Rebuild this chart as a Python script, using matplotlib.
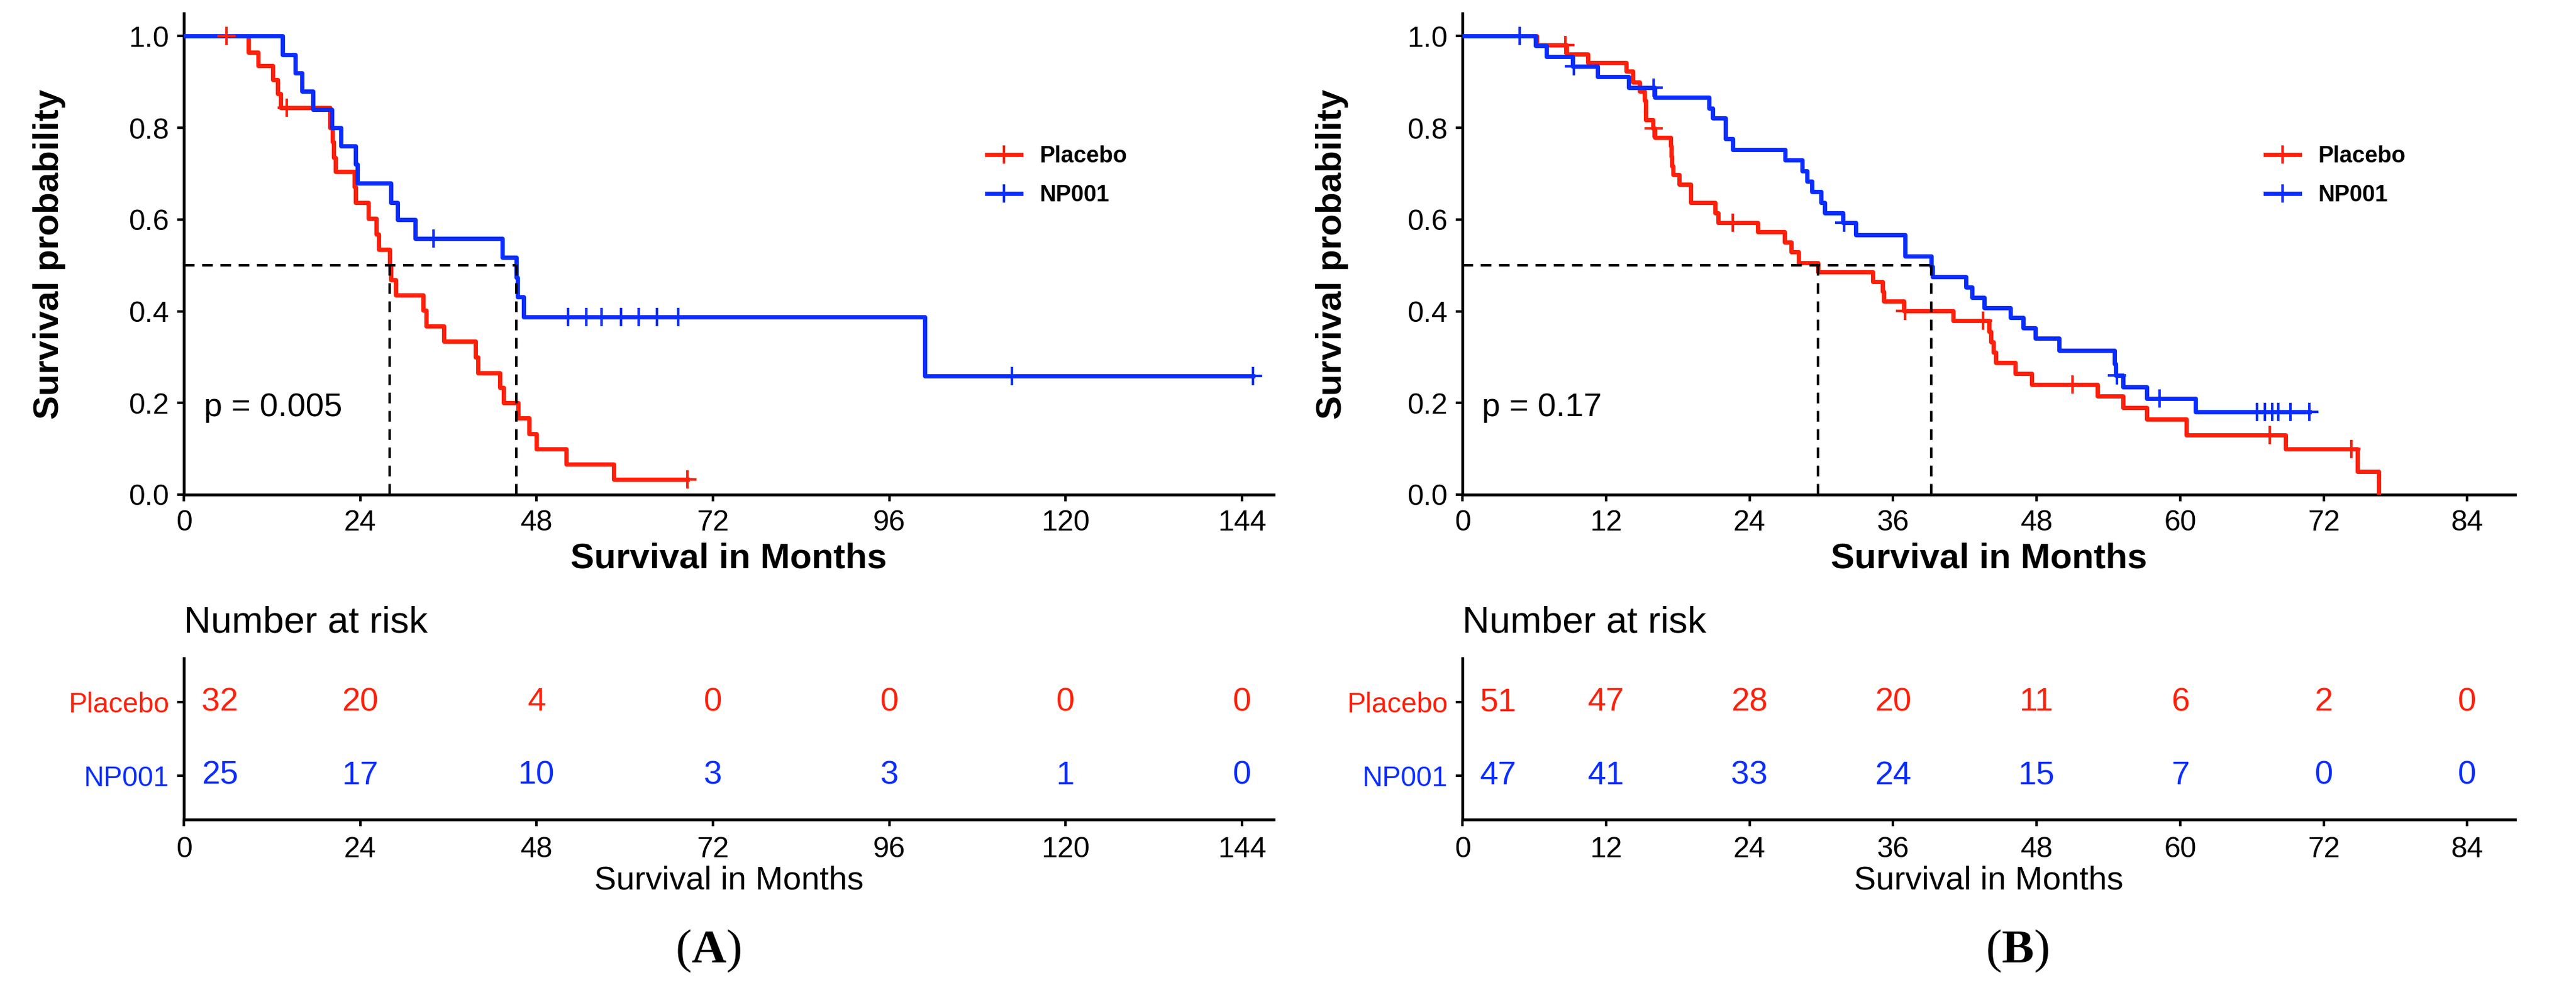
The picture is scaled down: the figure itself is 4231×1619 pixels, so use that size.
import numpy as np
import matplotlib
matplotlib.use('Agg')
import matplotlib.pyplot as plt
from matplotlib.lines import Line2D
import matplotlib.transforms as mtransforms

plt.rcParams['font.family'] = ['Liberation Sans', 'DejaVu Sans']
plt.rcParams['mathtext.fontset'] = 'custom'
plt.rcParams['mathtext.rm'] = 'Liberation Serif'
plt.rcParams['mathtext.bf'] = 'Liberation Serif:bold'

RED = '#FF200A'
BLUE = '#0A2DFF'
groups = ['Placebo', 'NP001']

# ---------------- Panel A data ----------------
A_placebo_time = [0, 8.8, 10.1, 12.1, 12.8, 13.2, 19.9, 20.2, 20.4, 20.6, 23.2, 23.4,
                  25.1, 26.2, 26.5, 28.0, 28.2, 28.8, 32.6, 33.0, 35.4, 39.7, 40.0,
                  43.0, 43.5, 45.5, 47.0, 48.0, 52.0, 58.5, 68.5]
A_placebo_surv = [1.0, 0.965, 0.935, 0.905, 0.875, 0.844, 0.800, 0.770, 0.735, 0.704, 0.672, 0.637,
                  0.602, 0.568, 0.535, 0.500, 0.469, 0.435, 0.402, 0.368, 0.334, 0.300, 0.266,
                  0.233, 0.200, 0.167, 0.133, 0.100, 0.067, 0.033, 0.033]
A_placebo_censor = [5.8, 14.0, 68.5]

A_np001_time = [0, 13.4, 15.2, 16.1, 17.6, 20.1, 21.4, 23.4, 23.6, 28.2, 29.1, 31.5,
                43.3, 45.2, 45.4, 46.2, 100.8, 145.5]
A_np001_surv = [1.0, 0.96, 0.92, 0.88, 0.84, 0.80, 0.76, 0.72, 0.68, 0.637, 0.60, 0.559,
                0.517, 0.474, 0.431, 0.388, 0.259, 0.259]
A_np001_censor = [34.0, 52.3, 54.8, 56.8, 59.5, 61.9, 64.4, 67.3, 112.7, 145.5]

A_pval = 'p = 0.005'
A_risk_times = [0, 24, 48, 72, 96, 120, 144]
A_risk_placebo = [32, 20, 4, 0, 0, 0, 0]
A_risk_np001 = [25, 17, 10, 3, 3, 1, 0]

# ---------------- Panel B data ----------------
B_placebo_time = [0, 6.2, 8.7, 10.5, 13.7, 14.25, 14.8, 15.2, 15.3, 15.95, 16.1,
                  17.4, 17.45, 17.5, 17.6, 18.1, 19.1, 21.1, 21.4, 24.7, 26.9, 27.5,
                  28.1, 29.7, 34.3, 35.1, 35.2, 36.9, 41.0, 44.0, 44.2, 44.4, 44.6,
                  46.2, 47.6, 53.1, 55.2, 57.2, 60.5, 68.8, 74.8, 76.6]
B_placebo_surv = [1.0, 0.980, 0.961, 0.942, 0.923, 0.900, 0.880, 0.860, 0.818, 0.799, 0.779,
                  0.760, 0.738, 0.717, 0.698, 0.677, 0.637, 0.615, 0.593, 0.573, 0.551, 0.529,
                  0.506, 0.486, 0.464, 0.443, 0.422, 0.401, 0.380, 0.356, 0.333, 0.310, 0.288,
                  0.264, 0.240, 0.215, 0.190, 0.165, 0.130, 0.100, 0.050, 0.0]
B_placebo_censor = [8.6, 16.0, 22.6, 37.0, 43.5, 51.0, 67.5, 74.3]

B_np001_time = [0, 6.1, 7.0, 9.2, 11.3, 13.9, 16.1, 20.6, 20.9, 22.0, 22.6, 27.0,
                28.4, 28.8, 29.2, 30.0, 30.3, 31.8, 32.9, 37.0, 39.2, 39.3, 42.1,
                42.6, 43.6, 45.8, 46.9, 47.9, 49.9, 54.5, 54.6, 55.2, 57.2, 61.3, 70.8]
B_np001_surv = [1.0, 0.979, 0.956, 0.934, 0.911, 0.888, 0.866, 0.843, 0.821, 0.776, 0.752, 0.730,
                0.706, 0.684, 0.661, 0.637, 0.615, 0.593, 0.566, 0.520, 0.497, 0.475, 0.453,
                0.430, 0.408, 0.386, 0.364, 0.341, 0.314, 0.285, 0.260, 0.235, 0.210, 0.180, 0.180]
B_np001_censor = [4.8, 9.3, 16.0, 31.9, 54.7, 58.3, 66.4, 67.1, 67.7, 68.2, 69.2, 70.8]

B_pval = 'p = 0.17'
B_risk_times = [0, 12, 24, 36, 48, 60, 72, 84]
B_risk_placebo = [51, 47, 28, 20, 11, 6, 2, 0]
B_risk_np001 = [47, 41, 33, 24, 15, 7, 0, 0]

y_ticks = [0.0, 0.2, 0.4, 0.6, 0.8, 1.0]

# ---------------- helpers ----------------
def step_value(times, surv, t):
    idx = np.searchsorted(np.asarray(times), t, side='right') - 1
    return np.asarray(surv)[idx]

def median_time(times, surv):
    for t, s in zip(times, surv):
        if s <= 0.5:
            return t
    return None

W, H = 4231, 1619
fig = plt.figure(figsize=(W / 300, H / 300), dpi=300)

TICK_FS = 11.5
LAB_FS = 14
RISK_FS = 13
SPINE_LW = 1.1

def style_axes(ax):
    for s in ['top', 'right']:
        ax.spines[s].set_visible(False)
    for s in ['left', 'bottom']:
        ax.spines[s].set_linewidth(SPINE_LW)
    ax.tick_params(direction='out', length=2.6, width=1.0, labelsize=TICK_FS, pad=3.2, colors='black')

def draw_panel(left_px, right_px, xmax, xticks, curves, pval, risk_pl, risk_np, legend_x, tag, tag_x):
    main_bottom = 813
    main_top = 21.7
    ax = fig.add_axes([left_px / W, (H - main_bottom) / H, (right_px - left_px) / W,
                       (main_bottom - main_top) / H])
    style_axes(ax)
    ax.set_xlim(0, xmax)
    ax.set_ylim(0, 1.05)
    ax.set_xticks(xticks)
    ax.set_yticks(y_ticks)
    ax.set_yticklabels(['%.1f' % v for v in y_ticks])
    medians = []
    for (times, surv, cens, col) in curves:
        ax.step(times, surv, where='post', color=col, lw=1.7, zorder=3)
        cs = [step_value(times, surv, c) for c in cens]
        ax.plot(cens, cs, ls='none', marker='+', ms=7, mew=1.0, color=col, zorder=4)
        medians.append(median_time(times, surv))
    dash = (0, (4.2, 3.0))
    ax.plot([0, max(medians)], [0.5, 0.5], color='black', lw=1.0, ls=dash, zorder=5)
    for m in medians:
        ax.plot([m, m], [0, 0.5], color='black', lw=1.0, ls=dash, zorder=5)
    trans = mtransforms.blended_transform_factory(ax.transAxes, ax.transData)
    ax.text(0.0185, 0.19, pval, transform=trans, ha='left', va='center', fontsize=13)
    ax.text(-0.1235, 0.5, 'Survival probability', transform=ax.transAxes, rotation=90,
            ha='center', va='center', fontsize=LAB_FS, fontweight='bold')
    ax.text(0.5, -0.133, 'Survival in Months', transform=ax.transAxes,
            ha='center', va='center', fontsize=LAB_FS, fontweight='bold')
    handles = [Line2D([], [], color=c[3], lw=1.7, marker='+', ms=7, mew=1.0) for c in curves]
    ax.legend(handles, groups, loc='center left', bbox_to_anchor=(legend_x, 0.662),
              frameon=False, prop={'weight': 'bold', 'size': 9}, handlelength=1.5,
              handletextpad=0.8, labelspacing=0.75, borderpad=0, borderaxespad=0)

    # risk table
    rt = fig.add_axes([left_px / W, (H - 1347) / H, (right_px - left_px) / W, 265 / H])
    style_axes(rt)
    rt.set_xlim(0, xmax)
    rt.set_ylim(0.4, 2.6)
    rt.set_xticks(xticks)
    rt.tick_params(axis='x', labelsize=11.5, pad=3.8)
    rt.set_yticks([2, 1])
    rt.set_yticklabels(groups, fontsize=11)
    for lbl, col in zip(rt.get_yticklabels(), [RED, BLUE]):
        lbl.set_color(col)
    for row, vals, col in [(2, risk_pl, RED), (1, risk_np, BLUE)]:
        for i, (t, v) in enumerate(zip(xticks, vals)):
            if i == 0:
                rt.annotate(str(v), (t, row), xytext=(7, 0), textcoords='offset points',
                            ha='left', va='center', fontsize=RISK_FS, color=col)
            else:
                rt.text(t, row, str(v), ha='center', va='center', fontsize=RISK_FS, color=col)
    rt.text(0.0, 1.219, 'Number at risk', transform=rt.transAxes, ha='left', va='center',
            fontsize=14.8)
    rt.text(0.5, -0.381, 'Survival in Months', transform=rt.transAxes, ha='center',
            va='center', fontsize=13)
    fig.text(tag_x, 1 - 1563 / H, r'$(\mathbf{' + tag + r'})$', ha='center', va='center',
             fontsize=19)

draw_panel(302, 2092, 148.3, A_risk_times,
           [(A_placebo_time, A_placebo_surv, A_placebo_censor, RED),
            (A_np001_time, A_np001_surv, A_np001_censor, BLUE)],
           A_pval, A_risk_placebo, A_risk_np001, 0.737, 'A', 0.275)
draw_panel(2402, 4131, 88.0, B_risk_times,
           [(B_placebo_time, B_placebo_surv, B_placebo_censor, RED),
            (B_np001_time, B_np001_surv, B_np001_censor, BLUE)],
           B_pval, B_risk_placebo, B_risk_np001, 0.763, 'B', 0.783)

fig.savefig('out.png', dpi=300, facecolor='white')
